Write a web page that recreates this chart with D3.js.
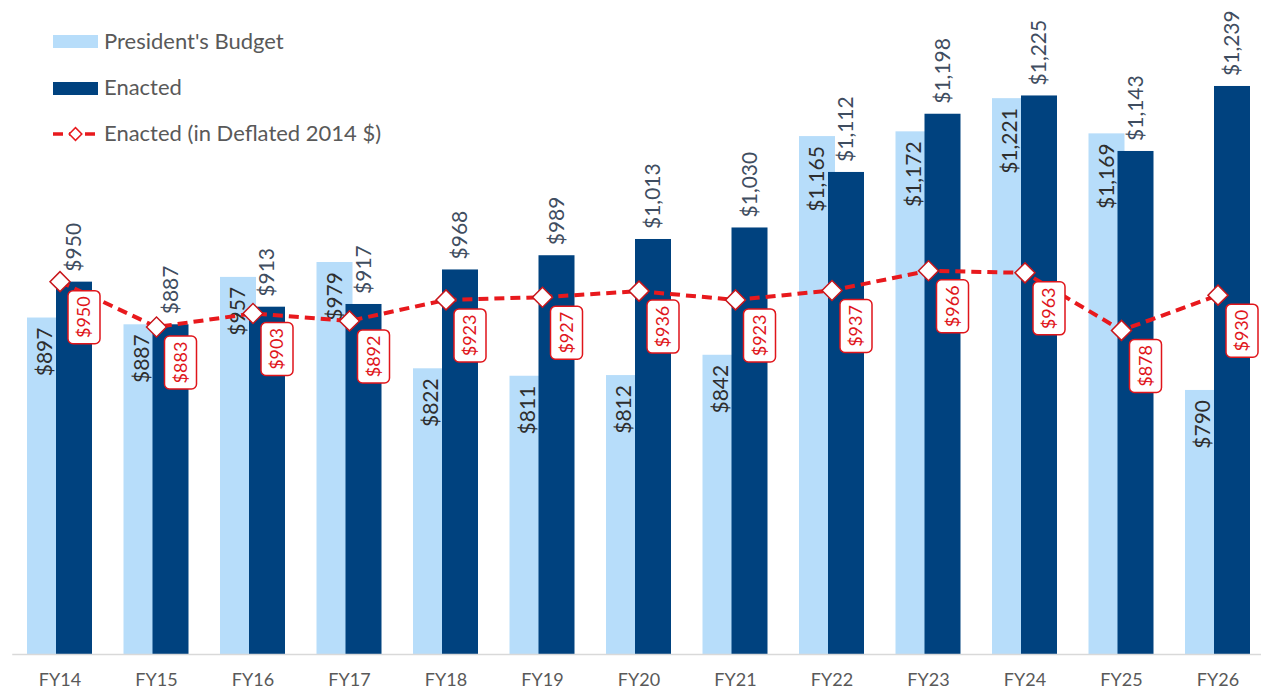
<!DOCTYPE html>
<html>
<head>
<meta charset="utf-8">
<script src="https://cdn.jsdelivr.net/npm/d3@7"></script>
<style>
  body { margin: 0; background: #fff; }
  svg { display: block; font-family: Lato, "Open Sans", sans-serif; }
</style>
</head>
<body>
<svg id="chart"></svg>
<script>
// data
const categories = ["FY14","FY15","FY16","FY17","FY18","FY19","FY20","FY21","FY22","FY23","FY24","FY25","FY26"];
const presidentsBudget = [897, 887, 957, 979, 822, 811, 812, 842, 1165, 1172, 1221, 1169, 790];
const enacted = [950, 887, 913, 917, 968, 989, 1013, 1030, 1112, 1198, 1225, 1143, 1239];
const enactedDeflated = [950, 883, 903, 892, 923, 927, 936, 923, 937, 966, 963, 878, 930];
const legendLabels = ["President's Budget", "Enacted", "Enacted (in Deflated 2014 $)"];

const width = 1261, height = 690;
const baseline = 654;
const colors = { pb: "#b7ddfa", en: "#00427f", red: "#e8191d" };

const svg = d3.select("#chart").attr("width", width).attr("height", height);

// scales
const x = d3.scaleBand().domain(categories).range([11.75, 1266.25]);
const xc = d => x(d) + x.bandwidth() / 2;
const series = d3.scalePoint().domain(["pb", "en"]).range([-33, -4]);
const barWidth = 36;
const y = d3.scaleLinear().domain([400, 1366]).range([baseline, 0]);

const fmt = v => "$" + d3.format(",")(v);

const rows = categories.map((c, i) => ({
  cat: c, pb: presidentsBudget[i], en: enacted[i], defl: enactedDeflated[i]
}));

// bars
const bars = svg.append("g");
bars.selectAll("rect.pb").data(rows).join("rect")
  .attr("class", "pb")
  .attr("x", d => xc(d.cat) + series("pb"))
  .attr("y", d => y(d.pb))
  .attr("width", barWidth)
  .attr("height", d => baseline - y(d.pb))
  .attr("fill", colors.pb);
bars.selectAll("rect.en").data(rows).join("rect")
  .attr("class", "en")
  .attr("x", d => xc(d.cat) + series("en"))
  .attr("y", d => y(d.en))
  .attr("width", barWidth)
  .attr("height", d => baseline - y(d.en))
  .attr("fill", colors.en);

// x axis
const xaxis = d3.axisBottom(x).tickSize(0).tickSizeOuter(0).tickPadding(19);
const xg = svg.append("g").attr("transform", `translate(0, ${baseline})`).call(xaxis);
xg.select(".domain").attr("stroke", "#d9d9d9").attr("stroke-width", 1.5);
xg.selectAll("text").attr("font-family", "Lato, sans-serif").attr("font-size", 18).attr("fill", "#595959");

// bar labels
const labels = svg.append("g");
labels.selectAll("text.pb").data(rows).join("text")
  .attr("class", "pb")
  .attr("transform", d => `translate(${xc(d.cat) + series("pb") + barWidth / 2}, ${y(d.pb) + 10}) rotate(-90)`)
  .attr("text-anchor", "end")
  .attr("dy", "0.35em")
  .attr("font-size", 21)
  .attr("fill", "#2e2e2e")
  .text(d => fmt(d.pb));
labels.selectAll("text.en").data(rows).join("text")
  .attr("class", "en")
  .attr("transform", d => `translate(${xc(d.cat) + series("en") + barWidth / 2}, ${y(d.en) - 10}) rotate(-90)`)
  .attr("text-anchor", "start")
  .attr("dy", "0.35em")
  .attr("font-size", 21)
  .attr("fill", "#3f4d60")
  .text(d => fmt(d.en));

// deflated line
const line = d3.line().x(d => xc(d.cat)).y(d => y(d.defl));
svg.append("path").datum(rows)
  .attr("d", line)
  .attr("fill", "none")
  .attr("stroke", colors.red)
  .attr("stroke-width", 4)
  .attr("stroke-dasharray", "10,6");

const diamond = d3.symbol().type(d3.symbolSquare).size(200);
svg.append("g").selectAll("path").data(rows).join("path")
  .attr("d", diamond)
  .attr("transform", d => `translate(${xc(d.cat)}, ${y(d.defl)}) rotate(45)`)
  .attr("fill", "#fff")
  .attr("stroke", "#c8161b")
  .attr("stroke-width", 1.5);

// line labels
const boxW = 32, boxH = 53;
const lbl = svg.append("g").selectAll("g").data(rows).join("g")
  .attr("transform", d => `translate(${xc(d.cat) + 8}, ${y(d.defl) + 9})`);
lbl.append("rect")
  .attr("width", boxW).attr("height", boxH).attr("rx", 5)
  .attr("fill", "#fff").attr("stroke", "#e0151b").attr("stroke-width", 1.5);
lbl.append("text")
  .attr("transform", `translate(${boxW / 2}, ${boxH / 2}) rotate(-90)`)
  .attr("text-anchor", "middle")
  .attr("dy", "0.35em")
  .attr("font-size", 18)
  .attr("fill", "#e0151b")
  .text(d => fmt(d.defl));

// legend
const legend = svg.append("g");
legend.append("rect").attr("x", 53).attr("y", 35).attr("width", 45).attr("height", 13).attr("fill", colors.pb);
legend.append("rect").attr("x", 53).attr("y", 82).attr("width", 45).attr("height", 13).attr("fill", colors.en);
legend.append("line").attr("x1", 53).attr("x2", 98).attr("y1", 134).attr("y2", 134)
  .attr("stroke", colors.red).attr("stroke-width", 3.5).attr("stroke-dasharray", "10,6");
legend.append("path").attr("d", d3.symbol().type(d3.symbolSquare).size(80))
  .attr("transform", "translate(75.5, 134) rotate(45)")
  .attr("fill", "#fff").attr("stroke", colors.red).attr("stroke-width", 1.5);
legend.selectAll("text").data(legendLabels).join("text")
  .attr("x", 104)
  .attr("y", (d, i) => 49 + i * 46)
  .attr("font-size", 22)
  .attr("fill", "#595959")
  .text(d => d);
</script>
</body>
</html>
